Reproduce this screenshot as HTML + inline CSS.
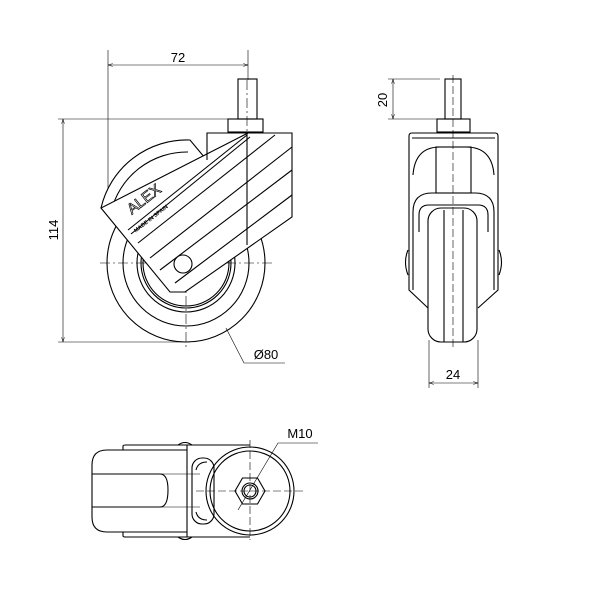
<!DOCTYPE html>
<html><head><meta charset="utf-8"><style>html,body{margin:0;padding:0;background:#fff}svg{display:block}</style></head>
<body>
<svg width="600" height="600" viewBox="0 0 600 600" xmlns="http://www.w3.org/2000/svg" font-family="Liberation Sans, sans-serif">
<defs>
<marker id="a" viewBox="0 0 10 10" refX="10" refY="5" markerWidth="8" markerHeight="8" orient="auto-start-reverse"><path d="M0,2 L10,5 L0,8" fill="none" stroke="#000" stroke-width="1"/></marker>
</defs>
<g fill="none" stroke="#000" stroke-width="0.6">
<line x1="108" y1="50" x2="108" y2="200"/>
<line x1="248" y1="50" x2="248" y2="80"/>
<line x1="108" y1="65" x2="248" y2="65" marker-start="url(#a)" marker-end="url(#a)"/>
<line x1="58" y1="119" x2="240" y2="119"/>
<line x1="58" y1="342" x2="190" y2="342"/>
<line x1="63" y1="119" x2="63" y2="342" marker-start="url(#a)" marker-end="url(#a)"/>
<polyline points="226,328 244,363 285,363"/>
<line x1="186" y1="170" x2="186" y2="350" stroke-dasharray="10,3,2,3"/>
<line x1="100" y1="263" x2="272" y2="263" stroke-dasharray="10,3,2,3"/>
<line x1="247" y1="80" x2="247" y2="240" stroke-dasharray="10,3,2,3"/>
</g>
<g fill="none" stroke="#000" stroke-width="1.1">
<circle cx="186" cy="263" r="79"/>
<circle cx="186" cy="263" r="63"/>
<circle cx="186" cy="263" r="49"/>
<circle cx="186" cy="263" r="45"/>
<circle cx="186" cy="263" r="43"/>
<rect x="238" y="79" width="19" height="40"/>
<rect x="228" y="119" width="35" height="13"/>
<path d="M101,208 A88,88 0 0 1 190,140 L205,158" fill="#fff"/>
<path d="M111,212 A78,78 0 0 1 188,152"/>
<path d="M207,160 L207,133 L292,133 L292,217 L185,292 L170,292 L101,208 L248,133" fill="#fff"/>
<line x1="128" y1="230" x2="247" y2="135"/>
<line x1="131" y1="234" x2="250" y2="137"/>
<line x1="138" y1="243" x2="275" y2="135"/>
<line x1="150" y1="258" x2="292" y2="147"/>
<line x1="160" y1="270" x2="292" y2="170"/>
<line x1="175" y1="283" x2="292" y2="195"/>
<line x1="247" y1="133" x2="247" y2="245"/>
<circle cx="183" cy="264" r="9" fill="#fff"/>
</g>
<text x="178" y="62" font-size="13" text-anchor="middle">72</text>
<text x="0" y="0" font-size="13" text-anchor="middle" transform="translate(58,230) rotate(-90)">114</text>
<text x="266" y="359" font-size="13" text-anchor="middle">Ø80</text>
<text x="0" y="0" font-size="15" text-anchor="middle" transform="translate(147,203) rotate(-38)" stroke="#000" stroke-width="0.7" fill="#fff">ALEX</text>
<text x="0" y="0" font-size="5.5" font-weight="bold" text-anchor="middle" transform="translate(152,220) rotate(-38)">MADE IN SPAIN</text>

<g fill="none" stroke="#000" stroke-width="0.6">
<line x1="388" y1="79" x2="440" y2="79"/>
<line x1="388" y1="119" x2="440" y2="119"/>
<line x1="393" y1="79" x2="393" y2="119" marker-start="url(#a)" marker-end="url(#a)"/>
<line x1="429" y1="340" x2="429" y2="388"/>
<line x1="478" y1="340" x2="478" y2="388"/>
<line x1="429" y1="383" x2="478" y2="383" marker-start="url(#a)" marker-end="url(#a)"/>
<line x1="453" y1="75" x2="453" y2="350" stroke-dasharray="8,3"/>
</g>
<g fill="none" stroke="#000" stroke-width="1.1">
<rect x="445" y="79" width="16" height="40"/>
<rect x="437" y="119" width="33" height="13"/>
<path d="M409,136 Q409,133 412,133 L495,133 Q498,133 498,136 L498,290 L478,308 M409,136 L409,290 L428,308"/>
<line x1="412" y1="138" x2="495" y2="138"/>
<path d="M413,175 Q415,147 440,147 L466,147 Q492,147 494,175"/>
<rect x="436" y="147" width="35" height="46"/>
<path d="M413,232 L413,212 Q413,193 432,193 L475,193 Q494,193 494,212 L494,232"/>
<path d="M419,232 L419,215 Q419,205 429,205 L478,205 Q488,205 488,215 L488,232"/>
<rect x="428" y="208" width="49" height="134" rx="13"/>
<line x1="444" y1="210" x2="444" y2="342"/>
<line x1="463" y1="210" x2="463" y2="342"/>
<path d="M408,250 Q403,262 408,275 M499,250 Q504,262 499,275"/>
<line x1="413" y1="232" x2="413" y2="290"/>
<line x1="494" y1="232" x2="494" y2="290"/>
</g>
<text x="0" y="0" font-size="13" text-anchor="middle" transform="translate(387,100) rotate(-90)">20</text>
<text x="453" y="379" font-size="13" text-anchor="middle">24</text>

<g fill="none" stroke="#000" stroke-width="0.6">
<line x1="196" y1="491" x2="305" y2="491" stroke-dasharray="8,3"/>
<line x1="250" y1="440" x2="250" y2="540" stroke-dasharray="8,3"/>
<polyline points="238,510 278,443 318,443"/>
<line x1="92" y1="474" x2="200" y2="474"/>
<line x1="92" y1="507" x2="200" y2="507"/>
</g>
<g fill="none" stroke="#000" stroke-width="1.1">
<path d="M187,450 L107,450 Q92,450 92,465 L92,517 Q92,532 107,532 L187,532"/>
<path d="M92,474 L160,474 Q168,474 168,490 Q168,507 160,507 L92,507"/>
<path d="M123,450 L123,446 Q123,445 126,445 L250,445 M123,532 L123,536 Q123,537 126,537 L250,537"/>
<path d="M178,445 Q185,440 192,445 M178,537 Q185,542 192,537"/>
<line x1="187" y1="445" x2="187" y2="537"/>
<rect x="192" y="458" width="22" height="66" rx="10"/>
<path d="M196,470 Q198,462 207,462 M196,512 Q198,520 207,520"/>
<circle cx="250" cy="491" r="44"/>
<circle cx="250" cy="491" r="40"/>
<polygon points="265,491 257.5,504 242.5,504 235,491 242.5,478 257.5,478"/>
<circle cx="250" cy="491" r="8"/>
<circle cx="250" cy="491" r="6"/>
</g>
<text x="300" y="438" font-size="13" text-anchor="middle">M10</text>
</svg>
</body></html>
